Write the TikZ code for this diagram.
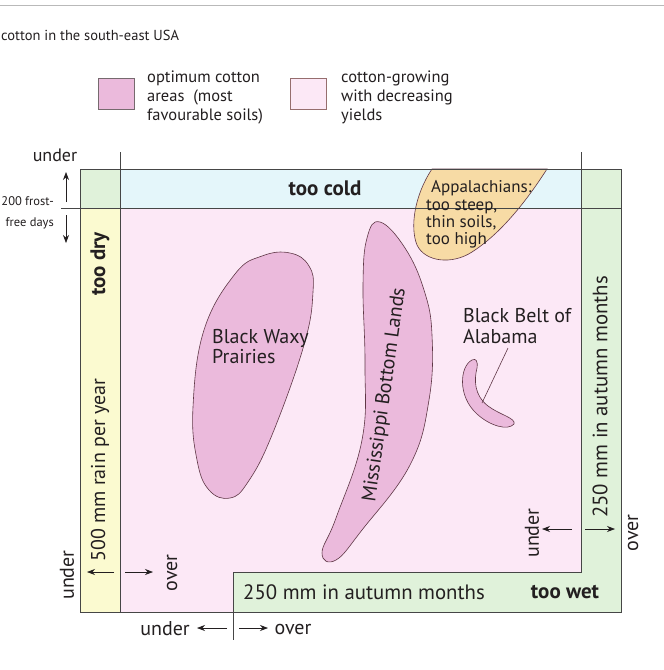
\documentclass[tikz,border=0pt]{standalone}
\usepackage{fontspec}
\setmainfont{PT Sans}
\usetikzlibrary{arrows.meta}
\definecolor{pinkarea}{RGB}{252,232,246}
\definecolor{blob}{RGB}{235,186,220}
\definecolor{cold}{RGB}{228,246,250}
\definecolor{grn}{RGB}{224,242,218}
\definecolor{yel}{RGB}{251,250,208}
\definecolor{app}{RGB}{247,219,165}
\definecolor{ink}{RGB}{35,31,32}
\definecolor{rulec}{RGB}{70,70,70}
\definecolor{blobline}{RGB}{95,55,70}
\definecolor{legline}{RGB}{150,110,110}
\tikzset{
  frame/.style={draw=rulec, line width=0.8pt},
  blobshape/.style={fill=blob, draw=blobline, line width=0.6pt},
  arr/.style={draw=ink, line width=0.7pt, -{Stealth[length=8pt,width=6pt]}},
  txt/.style={text=ink, inner sep=0pt, font=\fontsize{20}{22}\selectfont},
  bigtxt/.style={text=ink, inner sep=0pt, font=\fontsize{20.8}{22}\selectfont},
  legtxt/.style={text=ink, inner sep=0pt, font=\fontsize{16.5}{18}\selectfont},
  smalltxt/.style={text=ink, inner sep=0pt, font=\fontsize{17}{18}\selectfont},
  boldtxt/.style={text=ink, inner sep=0pt, font=\fontsize{21}{23}\selectfont\bfseries},
}
\begin{document}
\begin{tikzpicture}[x=1pt,y=-1pt]
\useasboundingbox (0,0) rectangle (664,670);
\fill[white] (0,0) rectangle (664,670);
\draw[gray!55, line width=1pt] (0,5) -- (664,5);

% title
\node[txt, font=\fontsize{14.5}{16}\selectfont, anchor=base west] (title) at (1,40) {cotton in the south-east USA};

% legend
\draw[fill=blob, draw=gray!70!blobline, line width=0.6pt] (98,78) rectangle (134,109);
\node[legtxt, anchor=base west] (l1a) at (147,82) {optimum cotton};
\node[legtxt, anchor=base west] (l1b) at (147,101) {areas\ \ (most};
\node[legtxt, anchor=base west] (l1c) at (147,120) {favourable soils)};
\draw[fill=pinkarea, draw=legline, line width=0.6pt] (290,78) rectangle (326,109);
\node[legtxt, anchor=base west] (l2a) at (341,82) {cotton-growing};
\node[legtxt, anchor=base west] (l2b) at (341,101) {with decreasing};
\node[legtxt, anchor=base west] (l2c) at (341,120) {yields};

% zones
\fill[pinkarea] (120,208) rectangle (581,572);
\fill[pinkarea] (120,572) rectangle (233,612);
\fill[cold] (120,169) rectangle (581,208);
\fill[grn] (80,169) rectangle (120,208);
\fill[grn] (581,169) rectangle (621,612);
\fill[grn] (233,572) rectangle (581,612);
\fill[yel] (80,208) rectangle (120,612);

% Appalachians
\draw[fill=app, draw=blobline, line width=0.6pt] (432,169) -- (547,169)
  .. controls (522,208) and (497,236) .. (472,252)
  .. controls (452,265) and (425,262) .. (417,245)
  .. controls (410,228) and (414,196) .. (432,169) -- cycle;

% Black Waxy Prairies
\draw[blobshape] plot[smooth cycle, tension=0.7] coordinates {
  (290,253) (309,266) (313,292) (304,345) (272,435) (248,482) (230,498)
  (209,490) (197,460) (193,407) (204,330) (235,274) (262,256)};

% Mississippi Bottom Lands
\draw[blobshape] plot[smooth cycle, tension=0.7] coordinates {
  (380,222) (405,248) (424,290) (432,335) (429,400) (410,465) (362,530)
  (336,560) (322,553) (336,518) (362,440) (365,365) (363,285) (367,238)};

% Black Belt of Alabama
\draw[blobshape] (472,360) .. controls (460,366) and (457,396) .. (477,414)
  .. controls (490,426) and (508,431) .. (514,424)
  .. controls (516,418) and (500,415) .. (488,406)
  .. controls (474,395) and (474,380) .. (477,368)
  .. controls (478,361) and (476,358) .. (472,360) -- cycle;

% frame lines
\draw[frame] (80,169) rectangle (621,612);
\draw[frame] (120,152) -- (120,612);
\draw[frame] (581,152) -- (581,572) -- (233,572) -- (233,640);
\draw[frame] (61,208) -- (621,208);

% labels inside
\node[boldtxt] (cold) at (325,188) {too cold};
\node[smalltxt, anchor=base west] (ap1) at (431,192) {Appalachians:};
\node[smalltxt, anchor=base west] (ap2) at (426,210) {too steep,};
\node[smalltxt, anchor=base west] (ap3) at (426,227) {thin soils,};
\node[smalltxt, anchor=base west] (ap4) at (426,244) {too high};
\node[txt, anchor=base west] (bw1) at (212,343) {Black Waxy};
\node[txt, anchor=base west] (bw2) at (212,363) {Prairies};
\node[txt, rotate=82] (miss) at (385,395) {Mississippi Bottom Lands};
\node[txt, anchor=base west] (bb1) at (463,322) {Black Belt of};
\node[txt, anchor=base west] (bb2) at (463,343) {Alabama};
\coordinate (bbl1) at (508,348);
\coordinate (bbl2) at (482,403);
\draw[draw=blobline, line width=0.6pt] (bbl1) -- (bbl2);

\node[boldtxt, rotate=90] (dry) at (100,264) {too dry};
\node[txt, rotate=90] (rain) at (100,470) {500 mm rain per year};
\node[bigtxt, rotate=90] (autv) at (600,397) {250 mm in autumn months};
\node[bigtxt] (auth) at (364,592) {250 mm in autumn months};
\node[boldtxt] (wet) at (565,592) {too wet};

% outside labels
\node[txt, font=\fontsize{18}{20}\selectfont] (undT) at (55,155) {under};
\node[txt, font=\fontsize{12.5}{14}\selectfont, anchor=base east] (fr1) at (54,205) {200 frost-};
\node[txt, font=\fontsize{12.5}{14}\selectfont, anchor=base east] (fr2) at (54,226) {free days};
\coordinate (a1s) at (66,202); \coordinate (a1e) at (66,172);
\coordinate (a2s) at (66,215); \coordinate (a2e) at (66,243);
\draw[arr] (a1s) -- (a1e);
\draw[arr] (a2s) -- (a2e);

\node[txt, rotate=90] (undL) at (67,575) {under};
\node[txt, rotate=90] (ovL) at (172,573) {over};
\coordinate (a3s) at (114,572); \coordinate (a3e) at (87,572);
\coordinate (a4s) at (125,572); \coordinate (a4e) at (153,572);
\draw[arr] (a3s) -- (a3e);
\draw[arr] (a4s) -- (a4e);

\node[txt, rotate=90] (undR) at (532,533) {under};
\node[txt, rotate=90] (ovR) at (633,533) {over};
\coordinate (a5s) at (572,529); \coordinate (a5e) at (542,529);
\coordinate (a6s) at (585,529); \coordinate (a6e) at (615,529);
\draw[arr] (a5s) -- (a5e);
\draw[arr] (a6s) -- (a6e);

\node[txt] (undB) at (165,629) {under};
\node[txt] (ovB) at (293,629) {over};
\coordinate (a7s) at (227,628); \coordinate (a7e) at (197,628);
\coordinate (a8s) at (239,628); \coordinate (a8e) at (268,628);
\draw[arr] (a7s) -- (a7e);
\draw[arr] (a8s) -- (a8e);
\end{tikzpicture}
\end{document}
